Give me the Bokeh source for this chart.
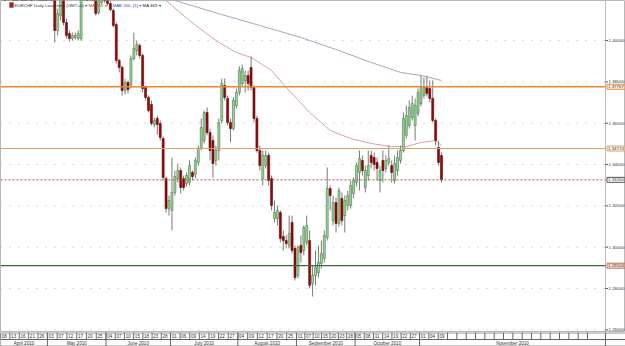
from bokeh.plotting import figure
from bokeh.models import Range1d, ColumnDataSource, Label
from bokeh.layouts import column
from bokeh.core.properties import value
from bokeh.embed import file_html
from bokeh.resources import INLINE

# ---------------- data (EURCHF daily, one entry per bar) ----------------
opens = [1.4310, 1.4335, 1.4320, 1.4345, 1.4362, 1.4340, 1.4318, 1.4330, 1.4305, 1.4290,
         1.4310, 1.4298, 1.4320, 1.4340, 1.4315, 1.4300, 1.4285, 1.4305, 1.4242, 1.4049,
         1.4121, 1.4194, 1.4088, 1.4034, 1.4010, 1.4015, 1.4010, 1.4010, 1.4218, 1.4252,
         1.4233, 1.4267, 1.4218, 1.4136, 1.4184, 1.4223, 1.4204, 1.4179, 1.4146, 1.4078,
         1.3904, 1.3870, 1.3758, 1.3797, 1.3787, 1.3913, 1.3952, 1.3976, 1.3928, 1.3773,
         1.3725, 1.3691, 1.3594, 1.3623, 1.3599, 1.3526, 1.3332, 1.3187, 1.3178, 1.3265,
         1.3332, 1.3371, 1.3332, 1.3308, 1.3313, 1.3362, 1.3352, 1.3410, 1.3478, 1.3516,
         1.3652, 1.3555, 1.3516, 1.3420, 1.3468, 1.3613, 1.3783, 1.3720, 1.3604, 1.3574,
         1.3686, 1.3749, 1.3792, 1.3807, 1.3831, 1.3870, 1.3773, 1.3623, 1.3468, 1.3332,
         1.3395, 1.3444, 1.3332, 1.3139, 1.3139, 1.3168, 1.3052, 1.3032, 1.3008, 1.3120,
         1.2994, 1.2863, 1.3008, 1.2984, 1.3023, 1.3032, 1.2824, 1.2863, 1.2877, 1.2921,
         1.2945, 1.3047, 1.3284, 1.3129, 1.3216, 1.3115, 1.3236, 1.3153, 1.3202, 1.3202,
         1.3260, 1.3313, 1.3362, 1.3420, 1.3289, 1.3347, 1.3444, 1.3434, 1.3410, 1.3323,
         1.3420, 1.3381, 1.3410, 1.3395, 1.3323, 1.3371, 1.3420, 1.3468, 1.3541, 1.3589,
         1.3628, 1.3589, 1.3647, 1.3695, 1.3734, 1.3773, 1.3768, 1.3720, 1.3613, 1.3483,
         1.3444]
closes = [1.4335, 1.4320, 1.4345, 1.4362, 1.4340, 1.4318, 1.4330, 1.4305, 1.4290, 1.4310,
          1.4298, 1.4320, 1.4340, 1.4315, 1.4300, 1.4285, 1.4305, 1.4290, 1.4049, 1.4131,
          1.4218, 1.4088, 1.4025, 1.4010, 1.4025, 1.4025, 1.4034, 1.4218, 1.4252, 1.4233,
          1.4267, 1.4218, 1.4131, 1.4194, 1.4223, 1.4204, 1.4179, 1.4150, 1.4073, 1.3904,
          1.3870, 1.3758, 1.3797, 1.3763, 1.3913, 1.3962, 1.3981, 1.3928, 1.3768, 1.3725,
          1.3661, 1.3599, 1.3613, 1.3594, 1.3531, 1.3337, 1.3187, 1.3226, 1.3265, 1.3342,
          1.3371, 1.3289, 1.3289, 1.3347, 1.3395, 1.3342, 1.3420, 1.3478, 1.3579, 1.3652,
          1.3555, 1.3468, 1.3405, 1.3468, 1.3604, 1.3792, 1.3725, 1.3604, 1.3574, 1.3710,
          1.3749, 1.3855, 1.3865, 1.3831, 1.3792, 1.3773, 1.3623, 1.3468, 1.3395, 1.3444,
          1.3444, 1.3323, 1.3202, 1.3168, 1.3178, 1.3042, 1.3032, 1.3018, 1.3066, 1.2984,
          1.2853, 1.2999, 1.2974, 1.3095, 1.3105, 1.2815, 1.2863, 1.2902, 1.2926, 1.2969,
          1.3057, 1.3284, 1.3250, 1.3216, 1.3115, 1.3274, 1.3129, 1.3226, 1.3250, 1.3299,
          1.3323, 1.3395, 1.3429, 1.3371, 1.3371, 1.3395, 1.3410, 1.3400, 1.3381, 1.3371,
          1.3371, 1.3420, 1.3429, 1.3362, 1.3405, 1.3434, 1.3468, 1.3623, 1.3637, 1.3676,
          1.3695, 1.3686, 1.3749, 1.3773, 1.3773, 1.3744, 1.3720, 1.3613, 1.3516, 1.3410,
          1.3326]
highs = [1.4350, 1.4352, 1.4360, 1.4378, 1.4370, 1.4350, 1.4345, 1.4340, 1.4318, 1.4322,
         1.4325, 1.4335, 1.4355, 1.4350, 1.4325, 1.4310, 1.4318, 1.4315, 1.4267, 1.4155,
         1.4242, 1.4213, 1.4107, 1.4049, 1.4039, 1.4039, 1.4049, 1.4242, 1.4281, 1.4267,
         1.4291, 1.4281, 1.4233, 1.4209, 1.4242, 1.4242, 1.4223, 1.4194, 1.4155, 1.4088,
         1.3913, 1.3879, 1.3816, 1.3807, 1.3928, 1.4039, 1.4000, 1.3986, 1.3937, 1.3783,
         1.3734, 1.3710, 1.3628, 1.3637, 1.3613, 1.3536, 1.3342, 1.3250, 1.3434, 1.3371,
         1.3405, 1.3386, 1.3347, 1.3362, 1.3420, 1.3371, 1.3434, 1.3492, 1.3623, 1.3661,
         1.3676, 1.3574, 1.3541, 1.3492, 1.3623, 1.3816, 1.3816, 1.3734, 1.3623, 1.3725,
         1.3768, 1.3875, 1.3884, 1.3855, 1.3855, 1.3923, 1.3783, 1.3637, 1.3492, 1.3468,
         1.3468, 1.3458, 1.3347, 1.3226, 1.3202, 1.3178, 1.3081, 1.3057, 1.3153, 1.3153,
         1.3008, 1.3008, 1.3057, 1.3105, 1.3153, 1.3081, 1.2911, 1.2984, 1.3008, 1.3032,
         1.3081, 1.3386, 1.3299, 1.3250, 1.3241, 1.3289, 1.3265, 1.3250, 1.3274, 1.3323,
         1.3337, 1.3410, 1.3468, 1.3444, 1.3395, 1.3468, 1.3468, 1.3458, 1.3434, 1.3395,
         1.3468, 1.3444, 1.3492, 1.3420, 1.3444, 1.3468, 1.3492, 1.3652, 1.3686, 1.3710,
         1.3734, 1.3720, 1.3768, 1.3831, 1.3821, 1.3831, 1.3807, 1.3807, 1.3623, 1.3516,
         1.3458]
lows = [1.4295, 1.4305, 1.4310, 1.4330, 1.4325, 1.4300, 1.4305, 1.4290, 1.4275, 1.4280,
        1.4285, 1.4288, 1.4310, 1.4300, 1.4285, 1.4270, 1.4272, 1.4260, 1.3991, 1.4025,
        1.4097, 1.4073, 1.4010, 1.3996, 1.4000, 1.4005, 1.4000, 1.4000, 1.4204, 1.4213,
        1.4218, 1.4204, 1.4121, 1.4126, 1.4175, 1.4184, 1.4170, 1.4141, 1.4063, 1.3889,
        1.3846, 1.3734, 1.3739, 1.3744, 1.3768, 1.3904, 1.3928, 1.3913, 1.3749, 1.3710,
        1.3652, 1.3589, 1.3579, 1.3545, 1.3516, 1.3323, 1.3168, 1.3153, 1.3081, 1.3250,
        1.3313, 1.3260, 1.3274, 1.3294, 1.3299, 1.3323, 1.3332, 1.3395, 1.3468, 1.3502,
        1.3541, 1.3420, 1.3337, 1.3395, 1.3420, 1.3599, 1.3710, 1.3589, 1.3507, 1.3565,
        1.3671, 1.3734, 1.3778, 1.3749, 1.3758, 1.3758, 1.3604, 1.3458, 1.3371, 1.3299,
        1.3381, 1.3299, 1.3178, 1.3120, 1.3105, 1.3023, 1.2984, 1.2994, 1.2994, 1.2969,
        1.2839, 1.2849, 1.2926, 1.2960, 1.3008, 1.2800, 1.2761, 1.2815, 1.2853, 1.2897,
        1.2926, 1.3032, 1.3178, 1.3105, 1.3071, 1.3100, 1.3105, 1.3071, 1.3178, 1.3187,
        1.3236, 1.3294, 1.3274, 1.3347, 1.3265, 1.3323, 1.3381, 1.3371, 1.3323, 1.3265,
        1.3313, 1.3362, 1.3395, 1.3313, 1.3308, 1.3347, 1.3405, 1.3458, 1.3526, 1.3574,
        1.3613, 1.3516, 1.3633, 1.3681, 1.3720, 1.3729, 1.3700, 1.3604, 1.3492, 1.3395,
        1.3313]

# moving averages, read at a few bars
ma200_bar = [54, 56, 64, 73, 80, 85, 92, 98, 105, 112, 119, 126, 133, 138, 143, 148, 150]
ma200_val = [1.4218, 1.4194, 1.4097, 1.4000, 1.3942, 1.3918, 1.3855, 1.3758, 1.3652,
             1.3565, 1.3526, 1.3502, 1.3487, 1.3487, 1.3507, 1.3516, 1.3492]
ma365_bar = [54, 59, 75, 88, 102, 115, 126, 136, 143, 150]
ma365_val = [1.4218, 1.4194, 1.4126, 1.4073, 1.4015, 1.3952, 1.3894, 1.3846, 1.3831, 1.3807]

# horizontal levels
level_values = [1.37767, 1.34774, 1.33260, 1.29104]
level_colors = ["#e8893a", "#dca06a", "#c0504d", "#3a6b35"]
level_dashes = ["solid", "solid", "2 2", "solid"]
level_widths = [1.6, 1.0, 1.0, 1.2]
level_box_line = ["#e8893a", "#dca06a", "#555555", "#c07050"]
level_box_fill = ["#fff4e8", "#fff6ec", "#ffffff", "#fde3d3"]

price_ticks = [1.26, 1.28, 1.30, 1.32, 1.34, 1.36, 1.38, 1.40]

# date axis
month_names = ["April 2010", "May 2010", "June 2010", "July 2010", "August 2010",
               "September 2010", "October 2010", "November 2010"]
month_first_bar = [0, 16, 36, 58, 81, 101, 121, 143]
month_days = [["08", "13", "16", "21", "26"],
              ["03", "07", "12", "17", "20", "25"],
              ["04", "07", "10", "15", "18", "23", "28"],
              ["01", "06", "09", "14", "19", "22", "27"],
              ["04", "09", "12", "17", "20", "25"],
              ["01", "07", "10", "15", "20", "23", "28"],
              ["05", "08", "11", "14", "19", "22", "27"],
              ["01", "04", "09"]]

# ---------------- layout helpers (pixel -> data) ----------------
W, H_MAIN, H_AX = 625, 332, 14
XS, X0 = 2.93, 1.5
YT, YS = 1.4194, 0.000484


def px(xp):
    return (xp - X0) / XS


def py(yp):
    return YT - yp * YS


AX = px(605)  # position of the price axis
FONT = "Liberation Sans"
SMALL = "4.4px"

xr = Range1d(px(0), px(W))
yr = Range1d(py(H_MAIN), py(0))

p = figure(width=W, height=H_MAIN, x_range=xr, y_range=yr, output_backend="svg",
           toolbar_location=None, x_axis_location=None, y_axis_location=None,
           min_border=0)
p.grid.visible = False
p.outline_line_color = "#b8b8b8"
p.background_fill_color = "white"
p.border_fill_color = "white"

# dotted grid rows
for t in price_ticks:
    p.segment(x0=[px(0)], y0=[t], x1=[AX], y1=[t], line_color="#b8b8b8",
              line_width=1, line_dash="1 8")

# right axis
p.segment(x0=[AX], y0=[py(H_MAIN)], x1=[AX], y1=[py(0)], line_color="#777777",
          line_width=1, line_dash="1 1")
for t in price_ticks:
    p.segment(x0=[AX], y0=[t], x1=[px(607.5)], y1=[t], line_color="#555555", line_width=1)
    p.add_layout(Label(x=px(608), y=t, text=f"{t:.5f}", text_font=FONT,
                       text_font_size=SMALL, text_color="#333333",
                       text_baseline="middle", text_align="left"))

# moving averages
p.line(ma365_bar, ma365_val, line_color="#a9a4c2", line_width=1)
p.line(ma200_bar, ma200_val, line_color="#d8a3a0", line_width=1)

# candles
n = min(len(opens), len(closes), len(highs), len(lows))
idx = list(range(n))
up = [closes[i] >= opens[i] for i in idx]
src = ColumnDataSource(dict(
    x=idx,
    top=[max(opens[i], closes[i]) for i in idx],
    bottom=[min(opens[i], closes[i]) for i in idx],
    high=highs[:n], low=lows[:n],
    fill=["#a6d1a6" if u else "#8e0c0c" for u in up],
    edge=["#3f7d3f" if u else "#6a0000" for u in up],
))
p.segment(x0="x", y0="low", x1="x", y1="high", source=src, line_color="#7a7a7a",
          line_width=1)
p.vbar(x="x", width=0.68, top="top", bottom="bottom", source=src,
       fill_color="fill", line_color="edge", line_width=0.6)

# horizontal levels with value boxes
for v, c, d, w, bl, bf in zip(level_values, level_colors, level_dashes, level_widths,
                              level_box_line, level_box_fill):
    p.segment(x0=[px(0)], y0=[v], x1=[AX], y1=[v], line_color=c, line_width=w,
              line_dash=d)
    p.add_layout(Label(x=px(606.5), y=v, text=f"{v:.5f}", text_font=FONT,
                       text_font_size=SMALL, text_color="#333333",
                       text_baseline="middle", text_align="left",
                       background_fill_color=bf, border_line_color=bl,
                       border_line_width=1, padding=1))

# header / legend texts
p.rect(x=[px(11)], y=[py(4.5)], width=4 / XS, height=5 * YS, fill_color="#b02020",
       line_color="#707070", line_width=0.6)
hdr = [("EURCHF Daily Local time (GMT+0) \u25be", 14, "#333333"),
       ("MA 200 \u25be", 88, "#c0392b"),
       ("MAE 200, [1] \u25be", 112, "#3050a0"),
       ("MA 365 \u25be", 142, "#222222")]
for t, xp, col in hdr:
    p.add_layout(Label(x=px(xp), y=py(4.5), text=t, text_font=FONT,
                       text_font_size=SMALL, text_color=col,
                       text_baseline="middle", text_align="left"))

# ---------------- date strip ----------------
p2 = figure(width=W, height=H_AX, x_range=xr, y_range=Range1d(0, 2),
            output_backend="svg", toolbar_location=None, x_axis_location=None,
            y_axis_location=None, min_border=0)
p2.grid.visible = False
p2.outline_line_color = None
p2.background_fill_color = "white"

cell_line = "#666666"
p2.segment(x0=[px(0), px(0), px(0)], y0=[1.95, 1.0, 0.05],
           x1=[px(W), px(W), px(W)], y1=[1.95, 1.0, 0.05],
           line_color=cell_line, line_width=1)
p2.segment(x0=[AX], y0=[0], x1=[AX], y1=[2], line_color=cell_line, line_width=1)

bounds = [b - 0.5 for b in month_first_bar] + [AX]
widths = []
for m in range(len(month_names) - 1):
    widths.append((bounds[m + 1] - bounds[m]) / len(month_days[m]))
avg_w = sum(widths) / len(widths)

day_x, day_t, cell_x = [], [], []
for m, name in enumerate(month_names):
    a, b = bounds[m], bounds[m + 1]
    if m < len(month_names) - 1:
        w = (b - a) / len(month_days[m])
        k = len(month_days[m])
    else:
        w = avg_w
        k = int((b - a) / w)
    for j in range(k):
        cx = a + j * w
        cell_x.append(cx)
        if j < len(month_days[m]):
            day_x.append(cx + 1.2 / XS)
            day_t.append(month_days[m][j])
    p2.segment(x0=[a], y0=[0], x1=[a], y1=[2], line_color=cell_line, line_width=1)
    p2.text(x=[(max(a, px(0)) + b) / 2], y=[0.5], text=[name],
            text_font=value(FONT), text_font_size="4.6px", text_color="#333333",
            text_align="center", text_baseline="middle")

p2.segment(x0=cell_x, y0=[1.0] * len(cell_x), x1=cell_x, y1=[2.0] * len(cell_x),
           line_color=cell_line, line_width=1)
p2.text(x=day_x, y=[1.5] * len(day_x), text=day_t, text_font=value(FONT),
        text_font_size="4.6px", text_color="#333333", text_align="left",
        text_baseline="middle")

layout = column(p, p2, spacing=0)
open("out.html", "w").write(file_html(layout, INLINE))
